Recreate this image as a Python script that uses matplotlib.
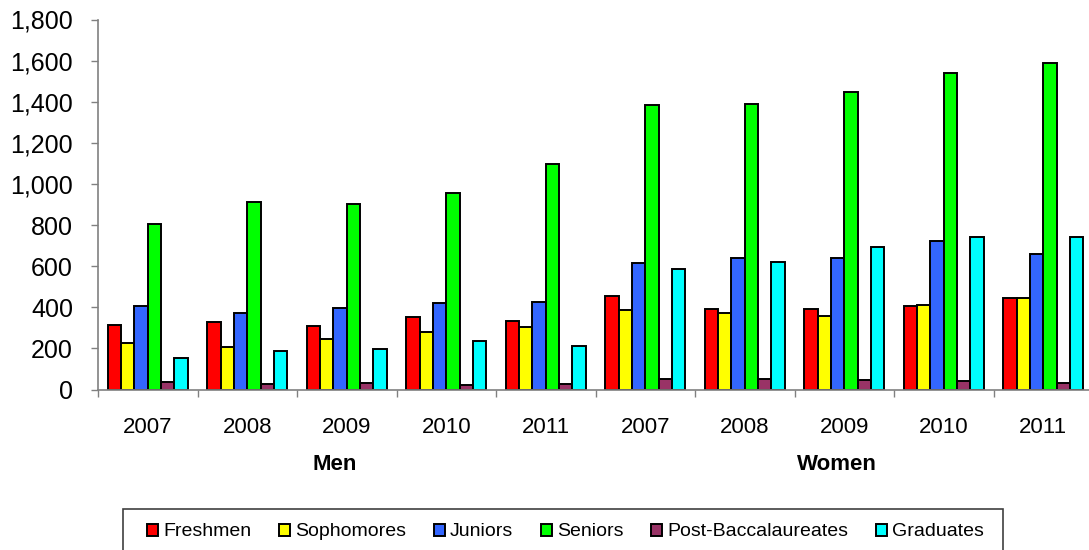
import numpy as np
import matplotlib.pyplot as plt
from matplotlib.patches import Rectangle
from matplotlib.ticker import FuncFormatter

plt.rcParams['font.family'] = ['Liberation Sans', 'DejaVu Sans']

years = ["2007", "2008", "2009", "2010", "2011", "2007", "2008", "2009", "2010", "2011"]
groups = ["Men", "Women"]
series = ["Freshmen", "Sophomores", "Juniors", "Seniors", "Post-Baccalaureates", "Graduates"]

freshmen = [313, 326, 308, 353, 331, 457, 392, 392, 407, 443]
sophomores = [227, 207, 247, 280, 302, 386, 371, 360, 413, 443]
juniors = [405, 373, 395, 420, 425, 616, 640, 639, 723, 661]
seniors = [807, 910, 901, 956, 1097, 1385, 1388, 1448, 1542, 1586]
post_bacc = [35, 29, 32, 24, 29, 53, 52, 45, 39, 32]
graduates = [152, 186, 196, 238, 214, 585, 619, 691, 741, 742]

colors = ["#FF0000", "#FFFF00", "#3366FF", "#00FF00", "#993366", "#00FFFF"]

fig = plt.figure(figsize=(10.89, 5.5), dpi=100)
ax = fig.add_axes([98 / 1089, 160.5 / 550, 995 / 1089, 370 / 550])

x = np.arange(len(years))
w = 0.8 / len(series)
data = [freshmen, sophomores, juniors, seniors, post_bacc, graduates]
for j, (name, vals) in enumerate(zip(series, data)):
    ax.bar(x + 0.1 + j * w, vals, width=w, align="edge", color=colors[j],
           edgecolor="black", linewidth=1.4, label=name)

ax.set_xlim(0, len(years))
ax.set_ylim(0, 1800)
ax.set_yticks(np.arange(0, 1801, 200))
ax.yaxis.set_major_formatter(FuncFormatter(lambda v, p: f"{int(v):,}"))
ax.tick_params(axis="y", labelsize=18, length=5, width=1, color="#808080", pad=13)

ax.set_xticks(np.arange(0, len(years) + 1))
ax.set_xticklabels([])
ax.set_xticks(x + 0.5, minor=True)
ax.set_xticklabels(years, minor=True)
ax.tick_params(axis="x", which="major", length=5, width=1, color="#808080")
ax.tick_params(axis="x", which="minor", length=0, labelsize=16, pad=20)

for s in ["top", "right"]:
    ax.spines[s].set_visible(False)
for s in ["left", "bottom"]:
    ax.spines[s].set_color("#808080")
    ax.spines[s].set_linewidth(1.2)

fig.text(335 / 1089, 1 - 465 / 550, groups[0], ha="center", va="center",
         fontsize=16, fontweight="bold")
fig.text(837 / 1089, 1 - 465 / 550, groups[1], ha="center", va="center",
         fontsize=16, fontweight="bold")

# legend box (runs off the bottom edge like the original)
fig.patches.append(Rectangle((123 / 1089, -0.05), 880 / 1089, 0.05 + 41 / 550,
                             transform=fig.transFigure, facecolor="none",
                             edgecolor="#404040", linewidth=1.2))
leg = fig.legend(loc="center left", bbox_to_anchor=(147 / 1089, 1 - 532 / 550),
                 ncol=6, fontsize=14, frameon=False,
                 handlelength=0.57, handleheight=0.57, handletextpad=0.26,
                 columnspacing=1.42, borderpad=0, borderaxespad=0)

fig.savefig("out.png", dpi=100)
